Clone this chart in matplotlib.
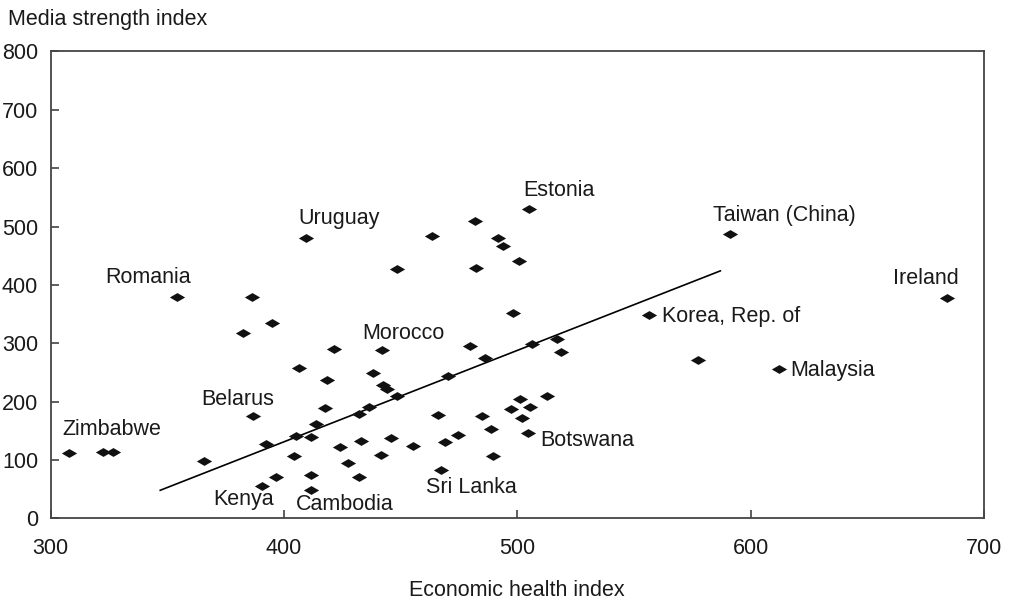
import matplotlib
matplotlib.use("Agg")
import matplotlib.pyplot as plt
from matplotlib.path import Path

plt.rcParams['font.family'] = ['Liberation Sans', 'DejaVu Sans']
FS = 15.5

# economic health index (x) and media strength index (y) per country
econ = [308, 322.4, 326.9, 354, 386.3, 394.9, 382.3, 421.5, 406.6, 418.5,
        417.6, 386.6, 413.6, 405.1, 411.4, 392.3, 424, 404.3, 365.9, 411.4,
        396.6, 390.6, 411.4, 409.5, 504.9, 481.8, 463.5, 491.8, 493.7, 500.6,
        448.5, 482.5, 498.1, 556.3, 442.1, 479.7, 486, 506.3, 517, 518.9,
        438, 442.3, 444, 470.1, 448.4, 436.5, 432.1, 512.8, 501, 497.2,
        505.5, 502.2, 504.8, 484.9, 466.1, 488.8, 474.7, 469, 455.4, 445.8,
        433, 427.5, 441.5, 432.3, 489.6, 467.1, 591, 684.2, 577.4, 612]
media = [112, 113, 113.5, 379, 379, 334, 318, 290, 257, 237,
         189, 175, 161, 141, 140, 127, 122, 107, 99, 75,
         71, 55, 48, 481, 530, 509, 484, 481, 467, 441,
         427, 429, 352, 348, 289, 294.5, 274.5, 298, 308, 285,
         249, 228, 221, 244, 209, 191, 179, 210, 205, 187,
         191, 172, 147, 176, 177, 153, 143, 130, 124, 137.5,
         133, 95, 108, 70, 107, 83, 487, 378, 272, 255]

# fitted trend line end points
trend_x = [347, 587]
trend_y = [48, 424]

# country labels and where they sit
label_names = ["Zimbabwe", "Romania", "Uruguay", "Estonia", "Taiwan (China)",
               "Ireland", "Korea, Rep. of", "Malaysia", "Morocco", "Belarus",
               "Botswana", "Sri Lanka", "Kenya", "Cambodia"]
label_x = [304.9, 323.3, 406, 502.4, 583.7, 660.8, 561.8, 617, 433.4, 364.5,
           510, 460.8, 369.6, 405]
label_y = [153, 413, 514, 562, 519, 411, 346, 254, 317, 204,
           134, 52, 32, 23]

# flattened diamond marker
diamond = Path([(-1, 0), (0, 0.58), (1, 0), (0, -0.58), (-1, 0)],
               [Path.MOVETO, Path.LINETO, Path.LINETO, Path.LINETO, Path.CLOSEPOLY])

fig = plt.figure(figsize=(10.13, 6.03), dpi=100)
ax = fig.add_axes([0.0499, 0.1405, 0.9215, 0.7741])

ax.plot(trend_x, trend_y, color='black', lw=1.2, zorder=2)
ax.plot(econ, media, ls='none', marker=diamond, markersize=11,
        color='#111111', markeredgewidth=0, zorder=3)

for name, lx, ly in zip(label_names, label_x, label_y):
    ax.text(lx, ly, name, fontsize=FS, ha='left', va='center', color='#1a1a1a')

ax.set_xlim(300, 700)
ax.set_ylim(0, 800)
ax.set_xticks([300, 400, 500, 600, 700])
ax.set_yticks(range(0, 801, 100))
ax.tick_params(axis='both', direction='in', length=6, width=1.1,
               color='#333333', labelsize=FS, labelcolor='#1a1a1a')
ax.tick_params(axis='x', pad=14)
ax.tick_params(axis='y', pad=9)
for s in ax.spines.values():
    s.set_color('#444444')
    s.set_linewidth(1.3)

ax.set_xlabel('Economic health index', fontsize=FS, color='#1a1a1a', labelpad=15)
fig.text(0.008, 0.967, 'Media strength index', fontsize=FS, color='#1a1a1a',
         ha='left', va='center')

fig.savefig('out.png', dpi=100)
